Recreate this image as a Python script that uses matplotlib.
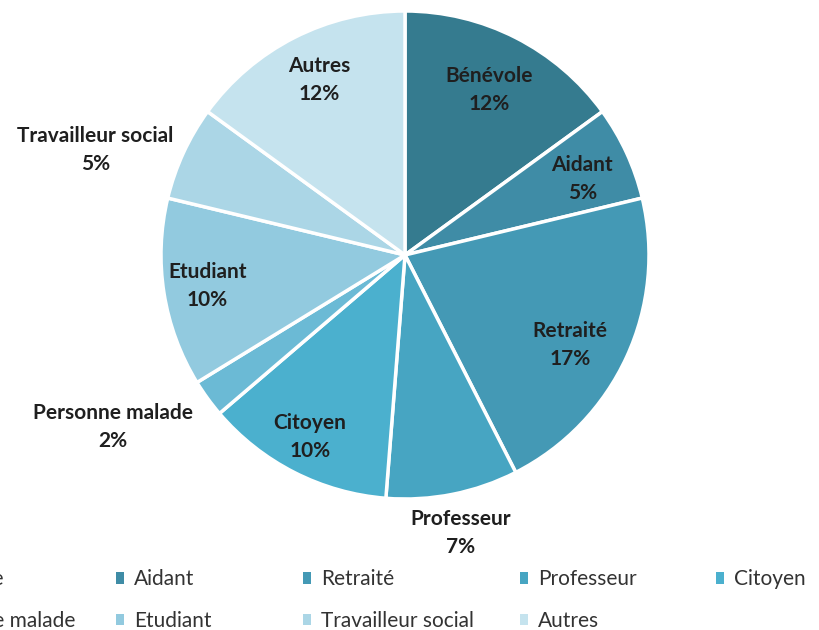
import matplotlib.pyplot as plt
from matplotlib.patches import Patch
import numpy as np

# parts of the pie, clockwise from 12 o'clock
categories = ['Bénévole', 'Aidant', 'Retraité', 'Professeur', 'Citoyen',
              'Personne malade', 'Etudiant', 'Travailleur social', 'Autres']
percents = [12, 5, 17, 7, 10, 2, 10, 5, 12]
colors = ['#357b8f', '#3f8ca6', '#4499b5', '#47a5c2', '#4bb0ce',
          '#6bbad5', '#92cadf', '#abd6e6', '#c5e3ee']

# label placement (radius as fraction of pie radius, angle tweak in degrees)
label_r = [0.76, 0.79, 0.77, 1.16, 0.84, 1.39, 0.82, 1.34, 0.80]
label_dt = [0, -1.6, -4, 0, -0.6, -5.5, 0, 6, -0.8]

# legend columns: left x of the marker in px, entries top to bottom
legend_cols = [(-100, [0, 5]), (116, [1, 6]), (303, [2, 7]), (520, [3, 8]), (716, [4])]

plt.rcParams['font.family'] = ['Lato', 'DejaVu Sans']

fig = plt.figure(figsize=(8.19, 6.30), dpi=100)
# pie centre at (405,255) px, radius 244 px
ax = fig.add_axes([(405 - 244) / 819, (630 - 255 - 244) / 630, 488 / 819, 488 / 630])
wedges, _ = ax.pie(percents, colors=colors, startangle=90, counterclock=False,
                   radius=1.0, wedgeprops=dict(edgecolor='white', linewidth=2.5))
ax.set_xlim(-1, 1)
ax.set_ylim(-1, 1)
ax.set_aspect('equal')
ax.axis('off')

for w, name, p, r, dt in zip(wedges, categories, percents, label_r, label_dt):
    mid = np.deg2rad((w.theta1 + w.theta2) / 2 + dt)
    x, y = r * np.cos(mid), r * np.sin(mid)
    ax.text(x, y, f'{name}\n{p}%', ha='center', va='center', fontsize=15,
            fontweight='bold', color='#1f1f1f', linespacing=1.5, clip_on=False)

for x0, idx in legend_cols:
    handles = [Patch(facecolor=colors[i], edgecolor='none') for i in idx]
    leg = fig.legend(handles, [categories[i] for i in idx], loc='upper left',
                     bbox_to_anchor=(x0 / 819, (630 - 569) / 630), frameon=False,
                     fontsize=15, handlelength=0.4, handleheight=0.5,
                     handletextpad=0.45, labelspacing=1.05, borderpad=0,
                     borderaxespad=0)
    for t in leg.get_texts():
        t.set_color('#333333')

fig.savefig('out.png', dpi=100)
